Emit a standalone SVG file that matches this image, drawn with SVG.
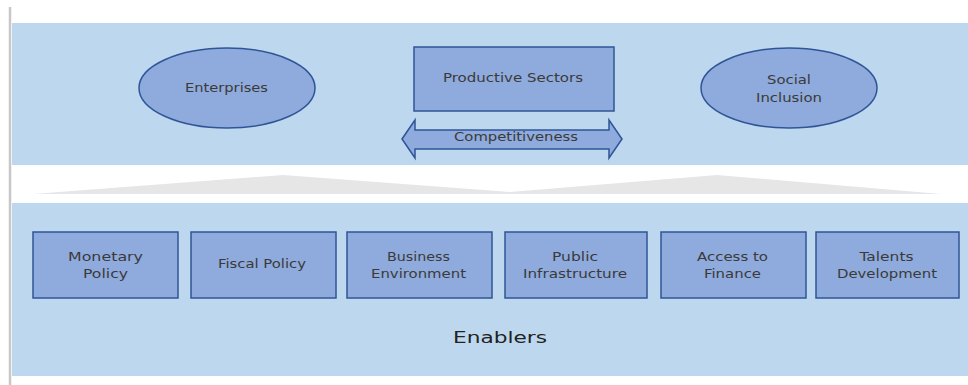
<svg xmlns="http://www.w3.org/2000/svg" width="968" height="385" viewBox="0 0 968 385">
<style>
.band{fill:#BDD7EE}
.node{fill:#8FAADC;stroke:#2F5597;stroke-width:1.5}
.lbl{font-family:"DejaVu Sans",sans-serif;font-size:12.5px;fill:#3A3A3A;text-anchor:middle}
.big{font-family:"DejaVu Sans",sans-serif;font-size:16.5px;fill:#222;text-anchor:middle}
</style>
<rect width="968" height="385" fill="#FFFFFF"/>
<line x1="10" y1="7" x2="10" y2="385" stroke="#C8C8C8" stroke-width="2.5"/>
<rect class="band" x="12" y="23" width="956" height="142"/>
<rect class="band" x="12" y="203" width="956" height="173"/>
<polygon points="33,194 283,175 510,192 717,175 941,194" fill="#E6E6E6"/>
<g id="enterprises">
<ellipse class="node" cx="227" cy="88" rx="88" ry="40"/>
<text class="lbl" x="226.5" y="92" textLength="83" lengthAdjust="spacingAndGlyphs">Enterprises</text>
</g>
<g id="productive-sectors">
<rect class="node" x="414" y="47" width="200" height="64"/>
<text class="lbl" x="513" y="82" textLength="140" lengthAdjust="spacingAndGlyphs">Productive Sectors</text>
</g>
<g id="social-inclusion">
<ellipse class="node" cx="789" cy="88" rx="88" ry="40"/>
<text class="lbl" x="789" y="84" textLength="44" lengthAdjust="spacingAndGlyphs">Social</text>
<text class="lbl" x="789" y="102" textLength="66" lengthAdjust="spacingAndGlyphs">Inclusion</text>
</g>
<g id="connectors">
<g id="competitiveness">
<polygon class="node" points="402,139 415,120 415,130 609,130 609,120 622,139 609,158 609,149 415,149 415,158"/>
<text class="lbl" x="516" y="141" textLength="124" lengthAdjust="spacingAndGlyphs">Competitiveness</text>
</g>
</g>
<g id="monetary-policy">
<rect class="node" x="33" y="232" width="145" height="66"/>
<text class="lbl" x="105.5" y="261" textLength="75" lengthAdjust="spacingAndGlyphs">Monetary</text>
<text class="lbl" x="105.5" y="278" textLength="45" lengthAdjust="spacingAndGlyphs">Policy</text>
</g>
<g id="fiscal-policy">
<rect class="node" x="191" y="232" width="145" height="66"/>
<text class="lbl" x="262" y="268" textLength="88" lengthAdjust="spacingAndGlyphs">Fiscal Policy</text>
</g>
<g id="business-environment">
<rect class="node" x="347" y="232" width="145" height="66"/>
<text class="lbl" x="418.5" y="261" textLength="63" lengthAdjust="spacingAndGlyphs">Business</text>
<text class="lbl" x="418.5" y="278" textLength="95" lengthAdjust="spacingAndGlyphs">Environment</text>
</g>
<g id="public-infrastructure">
<rect class="node" x="505" y="232" width="142" height="66"/>
<text class="lbl" x="575" y="261" textLength="46" lengthAdjust="spacingAndGlyphs">Public</text>
<text class="lbl" x="575" y="278" textLength="104" lengthAdjust="spacingAndGlyphs">Infrastructure</text>
</g>
<g id="access-to-finance">
<rect class="node" x="661" y="232" width="145" height="66"/>
<text class="lbl" x="732.5" y="261" textLength="71" lengthAdjust="spacingAndGlyphs">Access to</text>
<text class="lbl" x="732.5" y="278" textLength="57" lengthAdjust="spacingAndGlyphs">Finance</text>
</g>
<g id="talents-development">
<rect class="node" x="816" y="232" width="143" height="66"/>
<text class="lbl" x="886.5" y="261" textLength="54" lengthAdjust="spacingAndGlyphs">Talents</text>
<text class="lbl" x="887" y="278" textLength="100" lengthAdjust="spacingAndGlyphs">Development</text>
</g>
<g id="enablers">
<text class="big" x="500" y="343" textLength="94" lengthAdjust="spacingAndGlyphs">Enablers</text>
</g>
</svg>
